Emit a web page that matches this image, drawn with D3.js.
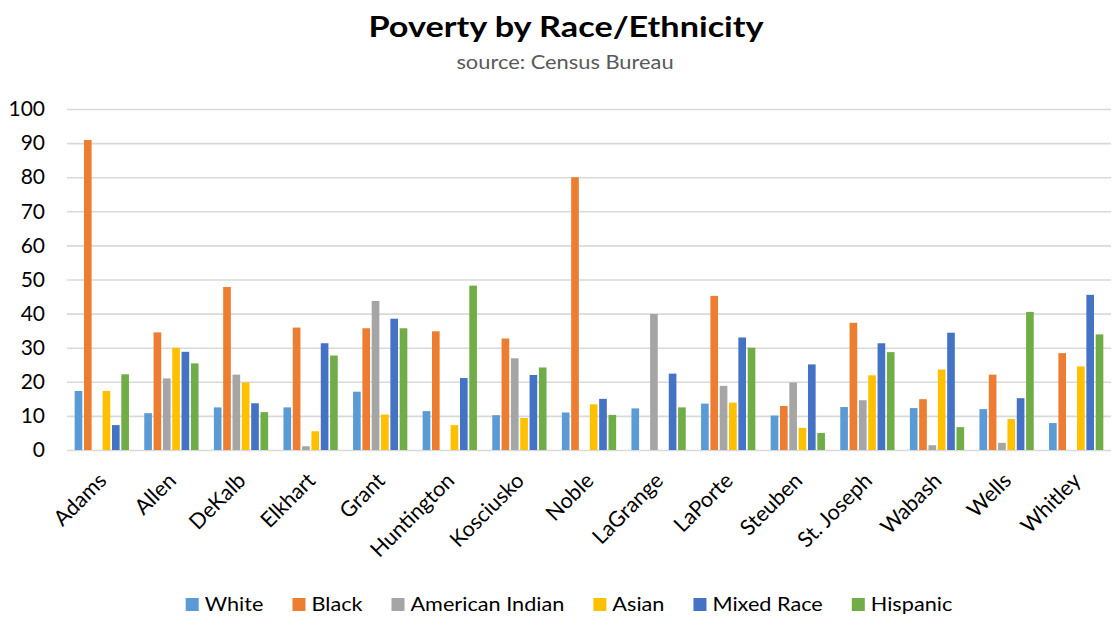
<!DOCTYPE html>
<html>
<head>
<meta charset="utf-8">
<script src="https://cdn.jsdelivr.net/npm/d3@7"></script>
<style>
  html, body { margin: 0; padding: 0; background: #fff; }
  svg { display: block; font-family: Lato, "Open Sans", sans-serif; }
</style>
</head>
<body>
<svg id="chart" width="1112" height="617"></svg>
<script>
// Counties shown along the x axis
const counties = ["Adams", "Allen", "DeKalb", "Elkhart", "Grant", "Huntington", "Kosciusko",
  "Noble", "LaGrange", "LaPorte", "Steuben", "St. Joseph", "Wabash", "Wells", "Whitley"];

// Poverty rate (%) per group, one value per county (null = no data)
const white          = [17.3, 10.8, 12.5, 12.5, 17.1, 11.4, 10.2, 11.0, 12.2, 13.6, 10.1, 12.6, 12.3, 12.0, 7.9];
const black          = [90.9, 34.5, 47.8, 35.9, 35.7, 34.8, 32.7, 80.0, null, 45.2, 12.9, 37.3, 14.9, 22.1, 28.4];
const americanIndian = [null, 21.0, 22.1, 1.1, 43.7, null, 26.9, null, 39.9, 18.8, 19.8, 14.6, 1.4, 2.1, null];
const asian          = [17.3, 30.0, 19.8, 5.5, 10.4, 7.3, 9.4, 13.4, null, 13.9, 6.5, 21.9, 23.6, 9.1, 24.5];
const mixedRace      = [7.3, 28.8, 13.7, 31.3, 38.5, 21.1, 22.0, 15.0, 22.4, 33.0, 25.1, 31.3, 34.4, 15.2, 45.5];
const hispanic       = [22.2, 25.4, 11.1, 27.7, 35.7, 48.2, 24.2, 10.3, 12.5, 30.0, 5.0, 28.7, 6.7, 40.5, 33.9];

const seriesNames  = ["White", "Black", "American Indian", "Asian", "Mixed Race", "Hispanic"];
const seriesValues = [white, black, americanIndian, asian, mixedRace, hispanic];
const seriesColors = ["#5b9bd5", "#ed7d31", "#a5a5a5", "#ffc000", "#4472c4", "#70ad47"];

const yTicks = [0, 10, 20, 30, 40, 50, 60, 70, 80, 90, 100];

const svg = d3.select("#chart");
const plot = { left: 67, right: 1111, top: 109, bottom: 450 };

const x = d3.scaleBand().domain(counties).range([plot.left, plot.right]).paddingInner(0.22).paddingOuter(0.11);
const xInner = d3.scaleBand().domain(seriesNames).range([0, x.bandwidth()]).paddingInner(0.18);
const y = d3.scaleLinear().domain([0, 100]).range([plot.bottom, plot.top]);

// Text set in a slightly wide face: stretch each run horizontally
function widen(sel, factor) {
  sel.each(function () {
    const len = this.getComputedTextLength();
    d3.select(this).attr("textLength", len * factor).attr("lengthAdjust", "spacingAndGlyphs");
  });
}

// Title and subtitle
svg.append("text").attr("x", 566).attr("y", 37).attr("text-anchor", "middle")
  .attr("font-size", 29).attr("font-weight", 700).attr("fill", "#000")
  .text("Poverty by Race/Ethnicity").call(widen, 1.18);
svg.append("text").attr("x", 565).attr("y", 69).attr("text-anchor", "middle")
  .attr("font-size", 18.5).attr("fill", "#595959")
  .text("source: Census Bureau").call(widen, 1.18);

// Horizontal gridlines
const yAxis = d3.axisLeft(y).tickValues(yTicks).tickSize(-(plot.right - plot.left)).tickPadding(22);
const gy = svg.append("g").attr("transform", `translate(${plot.left},0)`).call(yAxis);
gy.select(".domain").remove();
gy.selectAll(".tick line").attr("stroke", "#d9d9d9").attr("stroke-width", 1.6);
gy.selectAll(".tick text").attr("font-size", 21).attr("fill", "#000").attr("font-family", "Lato, sans-serif");

// Bars
const rows = [];
counties.forEach((c, i) => {
  seriesNames.forEach((s, j) => {
    const v = seriesValues[j][i];
    if (v != null) rows.push({ county: c, series: s, value: v, color: seriesColors[j] });
  });
});
svg.append("g").selectAll("rect").data(rows).join("rect")
  .attr("x", d => x(d.county) + xInner(d.series))
  .attr("y", d => y(d.value))
  .attr("width", xInner.bandwidth())
  .attr("height", d => y(0) - y(d.value))
  .attr("fill", d => d.color);

// Category labels along the bottom, rotated
const xAxis = d3.axisBottom(x).tickSize(0).tickPadding(0);
const gx = svg.append("g").attr("transform", `translate(0,${plot.bottom})`).call(xAxis);
gx.select(".domain").remove();
gx.selectAll(".tick text")
  .attr("font-size", 21.5).attr("fill", "#000").attr("font-family", "Lato, sans-serif")
  .attr("text-anchor", "end")
  .attr("dy", null).attr("y", null)
  .attr("transform", "translate(6,32) rotate(-45)");

// Legend
const legend = svg.append("g");
let lx = 0;
seriesNames.forEach((s, j) => {
  const g = legend.append("g").attr("transform", `translate(${lx},0)`);
  g.append("rect").attr("x", 0).attr("y", -13).attr("width", 13).attr("height", 13).attr("fill", seriesColors[j]);
  const t = g.append("text").attr("x", 19).attr("y", 0).attr("font-size", 19).attr("fill", "#000").text(s);
  widen(t, 1.14);
  lx += 19 + +t.attr("textLength") + 29;
});
const total = lx - 29;
legend.attr("transform", `translate(${569 - total / 2},611)`);
</script>
</body>
</html>
